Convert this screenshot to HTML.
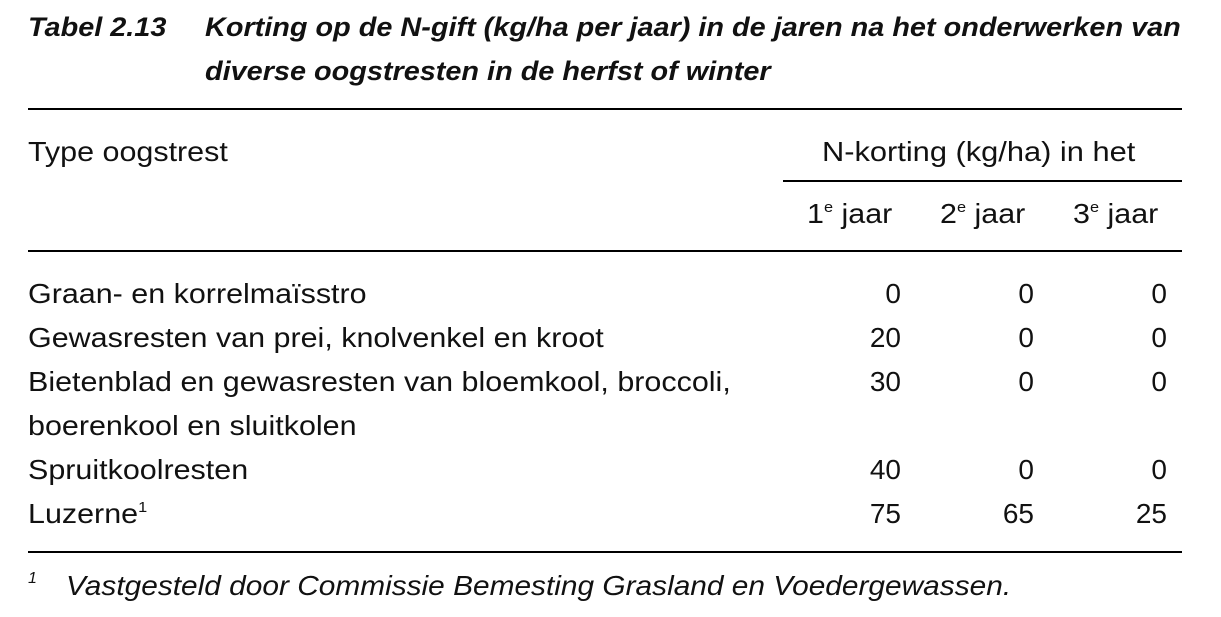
<!DOCTYPE html>
<html><head><meta charset="utf-8"><style>
body{margin:0;width:1221px;height:617px;background:#fff;position:relative;overflow:hidden;font-family:"Liberation Sans",sans-serif;color:#111}
.t{position:absolute;white-space:nowrap;transform-origin:0 0}
.ti{font-weight:bold;font-style:italic;font-size:27px;transform:scaleX(1.068)}
.b{font-size:28px;transform:scaleX(1.088)}
.r{position:absolute;white-space:nowrap;font-size:28px;text-align:right;width:60px}
.l{position:absolute;left:28px;width:1154px;height:2px;background:#000}
sup{font-size:15px;vertical-align:11px}
</style></head><body>
<div class="t ti" style="left:28px;top:12px">Tabel 2.13</div>
<div class="t ti" style="left:205px;top:12px">Korting op de N-gift (kg/ha per jaar) in de jaren na het onderwerken van</div>
<div class="t ti" style="left:205px;top:56px">diverse oogstresten in de herfst of winter</div>
<div class="l" style="top:108px"></div>
<div class="t b" style="left:28px;top:136px">Type oogstrest</div>
<div class="t b" style="left:822px;top:136px;transform:scaleX(1.1)">N-korting (kg/ha) in het</div>
<div class="l" style="top:180px;left:783px;width:399px"></div>
<div class="t b" style="left:807px;top:198px">1<sup>e</sup> jaar</div>
<div class="t b" style="left:940px;top:198px">2<sup>e</sup> jaar</div>
<div class="t b" style="left:1073px;top:198px">3<sup>e</sup> jaar</div>
<div class="l" style="top:250px"></div>
<div class="t b" style="left:28px;top:278px">Graan- en korrelmaïsstro</div>
<div class="t b" style="left:28px;top:322px">Gewasresten van prei, knolvenkel en kroot</div>
<div class="t b" style="left:28px;top:366px">Bietenblad en gewasresten van bloemkool, broccoli,</div>
<div class="t b" style="left:28px;top:410px">boerenkool en sluitkolen</div>
<div class="t b" style="left:28px;top:454px">Spruitkoolresten</div>
<div class="t b" style="left:28px;top:498px">Luzerne<sup>1</sup></div>
<div class="r" style="left:841px;top:278px">0</div><div class="r" style="left:974px;top:278px">0</div><div class="r" style="left:1107px;top:278px">0</div>
<div class="r" style="left:841px;top:322px">20</div><div class="r" style="left:974px;top:322px">0</div><div class="r" style="left:1107px;top:322px">0</div>
<div class="r" style="left:841px;top:366px">30</div><div class="r" style="left:974px;top:366px">0</div><div class="r" style="left:1107px;top:366px">0</div>
<div class="r" style="left:841px;top:454px">40</div><div class="r" style="left:974px;top:454px">0</div><div class="r" style="left:1107px;top:454px">0</div>
<div class="r" style="left:841px;top:498px">75</div><div class="r" style="left:974px;top:498px">65</div><div class="r" style="left:1107px;top:498px">25</div>
<div class="l" style="top:551px"></div>
<div class="t" style="left:28px;top:570px;font-style:italic;font-size:16px">1</div>
<div class="t b" style="left:66px;top:570px;font-style:italic;transform:scaleX(1.066)">Vastgesteld door Commissie Bemesting Grasland en Voedergewassen.</div>
</body></html>
